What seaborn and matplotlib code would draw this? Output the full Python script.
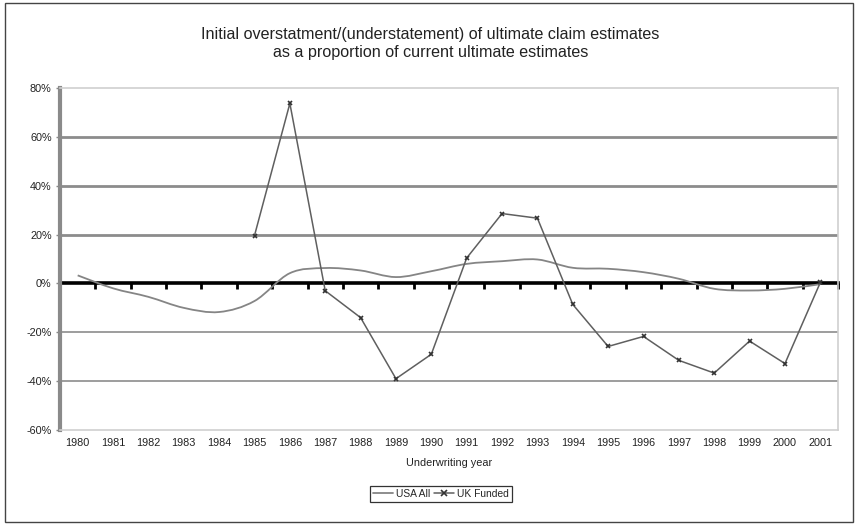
import numpy as np
import pandas as pd
import matplotlib
matplotlib.use("Agg")
import matplotlib.pyplot as plt
from matplotlib.path import Path
from matplotlib.patches import PathPatch, Rectangle
from matplotlib.lines import Line2D
from matplotlib.ticker import FuncFormatter
import seaborn as sns

# Underwriting years and initial over/(under)statement, in percent
years = list(range(1980, 2002))
usa_all = [3.3, -2.0, -5.5, -10.0, -11.7, -7.2, 4.2, 6.3, 5.3, 2.6, 5.0,
           8.0, 9.1, 9.8, 6.4, 6.0, 4.6, 1.9, -2.2, -2.9, -2.2, -0.3]
uk_years = list(range(1985, 2002))
uk_funded = [19.6, 73.7, -3.0, -14.0, -39.0, -29.0, 10.4, 28.6, 26.7,
             -8.6, -25.8, -21.7, -31.5, -36.7, -23.6, -32.8, 0.4]
y_ticks = [-60, -40, -20, 0, 20, 40, 60, 80]

title_lines = ["Initial overstatment/(understatement) of ultimate claim estimates",
               "as a proportion of current ultimate estimates"]

sns.set_style("white")
plt.rcParams["font.family"] = ["Liberation Sans", "DejaVu Sans"]

W, H = 861, 529
fig = plt.figure(figsize=(W / 100, H / 100), dpi=100)
ax = fig.add_axes([60 / W, 1 - 430 / H, (838 - 60) / W, (430 - 88) / H])

usa_df = pd.DataFrame({"pos": [y - years[0] for y in years], "value": usa_all})
uk_df = pd.DataFrame({"pos": [y - years[0] for y in uk_years], "value": uk_funded})

# horizontal gridlines
for v in y_ticks:
    if v == 0 or v in (-60, 80):
        continue
    lw = 2.0 if v > 0 else 1.2
    ax.axhline(v, color="#8c8c8c", lw=lw, zorder=1)

# USA All as a smoothed (Catmull-Rom bezier) curve through the yearly values
px = usa_df["pos"].to_numpy(float)
py = usa_df["value"].to_numpy(float)
verts = [(px[0], py[0])]
codes = [Path.MOVETO]
n = len(px)
for i in range(n - 1):
    p0 = np.array([px[max(i - 1, 0)], py[max(i - 1, 0)]])
    p1 = np.array([px[i], py[i]])
    p2 = np.array([px[i + 1], py[i + 1]])
    p3 = np.array([px[min(i + 2, n - 1)], py[min(i + 2, n - 1)]])
    c1 = p1 + (p2 - p0) / 6.0
    c2 = p2 - (p3 - p1) / 6.0
    verts += [tuple(c1), tuple(c2), tuple(p2)]
    codes += [Path.CURVE4] * 3
usa_color = "#858585"
ax.add_patch(PathPatch(Path(verts, codes), facecolor="none",
                       edgecolor=usa_color, lw=1.3, zorder=3))

# UK Funded with markers
uk_color = "#5f5f5f"
sns.lineplot(data=uk_df, x="pos", y="value", ax=ax, color=uk_color, lw=1.1,
             marker="x", markersize=3, markeredgewidth=1.2,
             markeredgecolor="#333333", zorder=4, legend=False)

ax.set_xlim(-0.5, len(years) - 0.5)
ax.set_ylim(-60, 80)
ax.set_xticks(range(len(years)))
ax.set_xticklabels([str(y) for y in years])
ax.set_yticks(y_ticks)
ax.yaxis.set_major_formatter(FuncFormatter(lambda v, _: f"{int(v)}%"))
ax.tick_params(axis="x", length=0, pad=6, labelsize=7.8, labelcolor="#222222")
ax.tick_params(axis="y", length=3, width=1, color="#888888", direction="out",
               pad=3, labelsize=7.8, labelcolor="#222222", left=True)
ax.set_xlabel("Underwriting year", fontsize=7.8, color="#222222", labelpad=7)
ax.set_ylabel("")

for side in ("top", "right", "bottom"):
    ax.spines[side].set_color("#cfcfcf")
    ax.spines[side].set_linewidth(1.2)
ax.spines["left"].set_color("#8a8a8a")
ax.spines["left"].set_linewidth(3)

# category axis drawn through zero, ticks between categories
zero_frac = (0 - (-60)) / (80 - (-60))
sec = ax.secondary_xaxis(zero_frac)
sec.set_xticks(np.arange(-0.5, len(years), 1.0))
sec.set_xticklabels([])
sec.tick_params(axis="x", length=4, width=2, color="black", direction="out")
sec.spines["bottom"].set_color("black")
sec.spines["bottom"].set_linewidth(2.6)

# legend
handles = [Line2D([], [], color=usa_color, lw=1.3),
           Line2D([], [], color=uk_color, lw=1.1, marker="x", markersize=5,
                  markeredgewidth=1.2, markeredgecolor="#333333")]
leg = fig.legend(handles, ["USA All", "UK Funded"], loc="center",
                 bbox_to_anchor=(441 / W, 1 - 494 / H), ncol=2, fontsize=7.4,
                 frameon=True, fancybox=False, handlelength=2.0,
                 handletextpad=0.3, columnspacing=0.3, borderpad=0.3,
                 borderaxespad=0)
leg.get_frame().set_edgecolor("black")
leg.get_frame().set_linewidth(0.9)

# title
fig.text(0.5, 1 - 35 / H, title_lines[0], ha="center", va="center",
         fontsize=11.6, color="#222222")
fig.text(0.5, 1 - 53 / H, title_lines[1], ha="center", va="center",
         fontsize=11.6, color="#222222")

# outer chart border
fig.patches.append(Rectangle((5 / W, 1 - 522 / H), (853 - 5) / W, (522 - 3) / H,
                             transform=fig.transFigure, fill=False,
                             edgecolor="#444444", lw=1.0))

fig.savefig("out.png", dpi=100)
